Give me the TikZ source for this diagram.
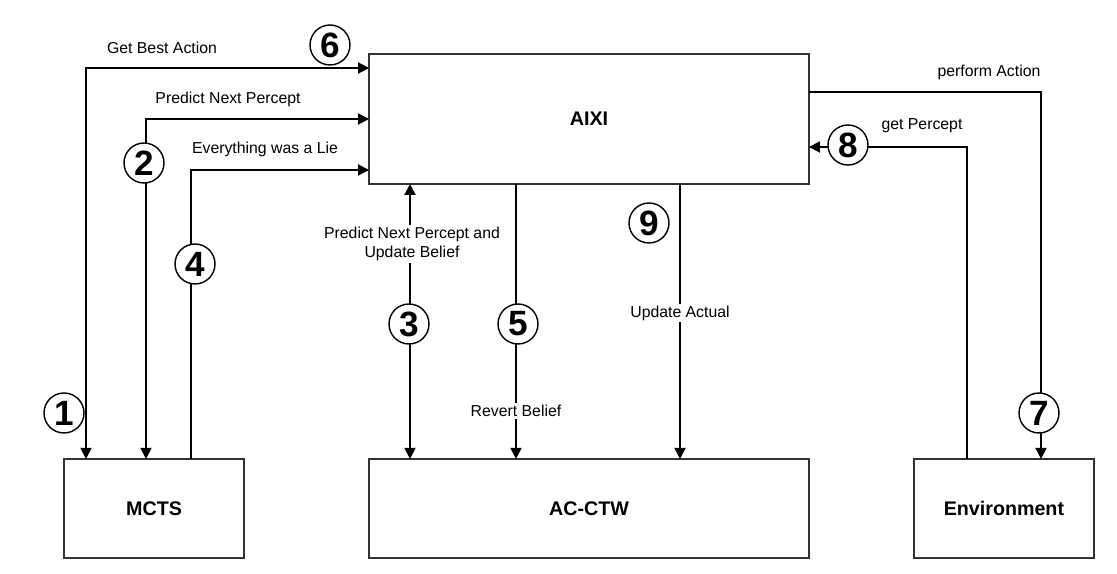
\documentclass[tikz,border=0pt]{standalone}
\usepackage{fontspec}
\setmainfont{Liberation Sans}
\usetikzlibrary{positioning, arrows.meta}
\definecolor{BoxEdge}{HTML}{333333}

\begin{document}
\begin{tikzpicture}[
    x=0.02cm, y=-0.02cm,
    font=\fontsize{9}{11}\selectfont,
    box/.style={draw=BoxEdge, line width=1.1pt, fill=white, outer sep=0pt, minimum height=1.98cm, font=\fontsize{11.2}{13}\selectfont\bfseries},
    link/.style={line width=1.1pt, >={Triangle[width=0.22cm, length=0.22cm]}},
    lbl/.style={fill=white, inner sep=1pt, align=center},
    num/.style={circle, draw, fill=white, line width=0.8pt, minimum size=0.8cm, inner sep=0pt, font=\fontsize{20}{20}\selectfont\bfseries}
]
    \useasboundingbox (0,0) rectangle (1117,574);

    \node (aixi) [box, minimum width=8.8cm, minimum height=2.6cm] at (589,119) {AIXI};
    \node (acctw) [box, minimum width=8.8cm, below=5.5cm of aixi.south, anchor=north] {AC-CTW};
    \node (mcts) [box, minimum width=3.6cm, left=2.5cm of acctw] {MCTS};
    \node (env) [box, minimum width=3.6cm, right=2.1cm of acctw] {Environment};

    \draw[link, <->] (mcts.north -| 86,0) |- (aixi.west |- 0,68);
    \draw[link, <->] (mcts.north -| 146,0) |- (aixi.west |- 0,119);
    \draw[link, ->] (mcts.north -| 191,0) |- (aixi.west |- 0,170);
    \draw[link, <->] (acctw.north -| 410,0) -- (aixi.south -| 410,0);
    \draw[link, ->] (aixi.south -| 516,0) -- (acctw.north -| 516,0);
    \draw[link, ->] (aixi.south -| 680,0) -- (acctw.north -| 680,0);
    \draw[link, ->] (aixi.east |- 0,92) -| (env.north -| 1041,0);
    \draw[link, ->] (env.north -| 967,0) |- (aixi.east |- 0,147);

    \node (gba) at (162,48) {Get Best Action};
    \node (pnp) at (228,99) {Predict Next Percept};
    \node (ewl) at (265,149) {Everything was a Lie};
    \node (pnpub) [lbl] at (412,244) {Predict Next Percept and\\Update Belief};
    \node (rb) [lbl] at (516,411) {Revert Belief};
    \node (ua) [lbl] at (680,313) {Update Actual};
    \node (pa) at (989,72) {perform Action};
    \node (gp) at (922,126) {get Percept};

    \node (n1) [num] at (64,413) {1};
    \node (n2) [num] at (144,163) {2};
    \node (n3) [num] at (409,324) {3};
    \node (n4) [num] at (195,264) {4};
    \node (n5) [num] at (518,324) {5};
    \node (n6) [num] at (330,45) {6};
    \node (n7) [num] at (1039,413) {7};
    \node (n8) [num] at (848,145) {8};
    \node (n9) [num] at (649,223) {9};
\end{tikzpicture}
\end{document}
